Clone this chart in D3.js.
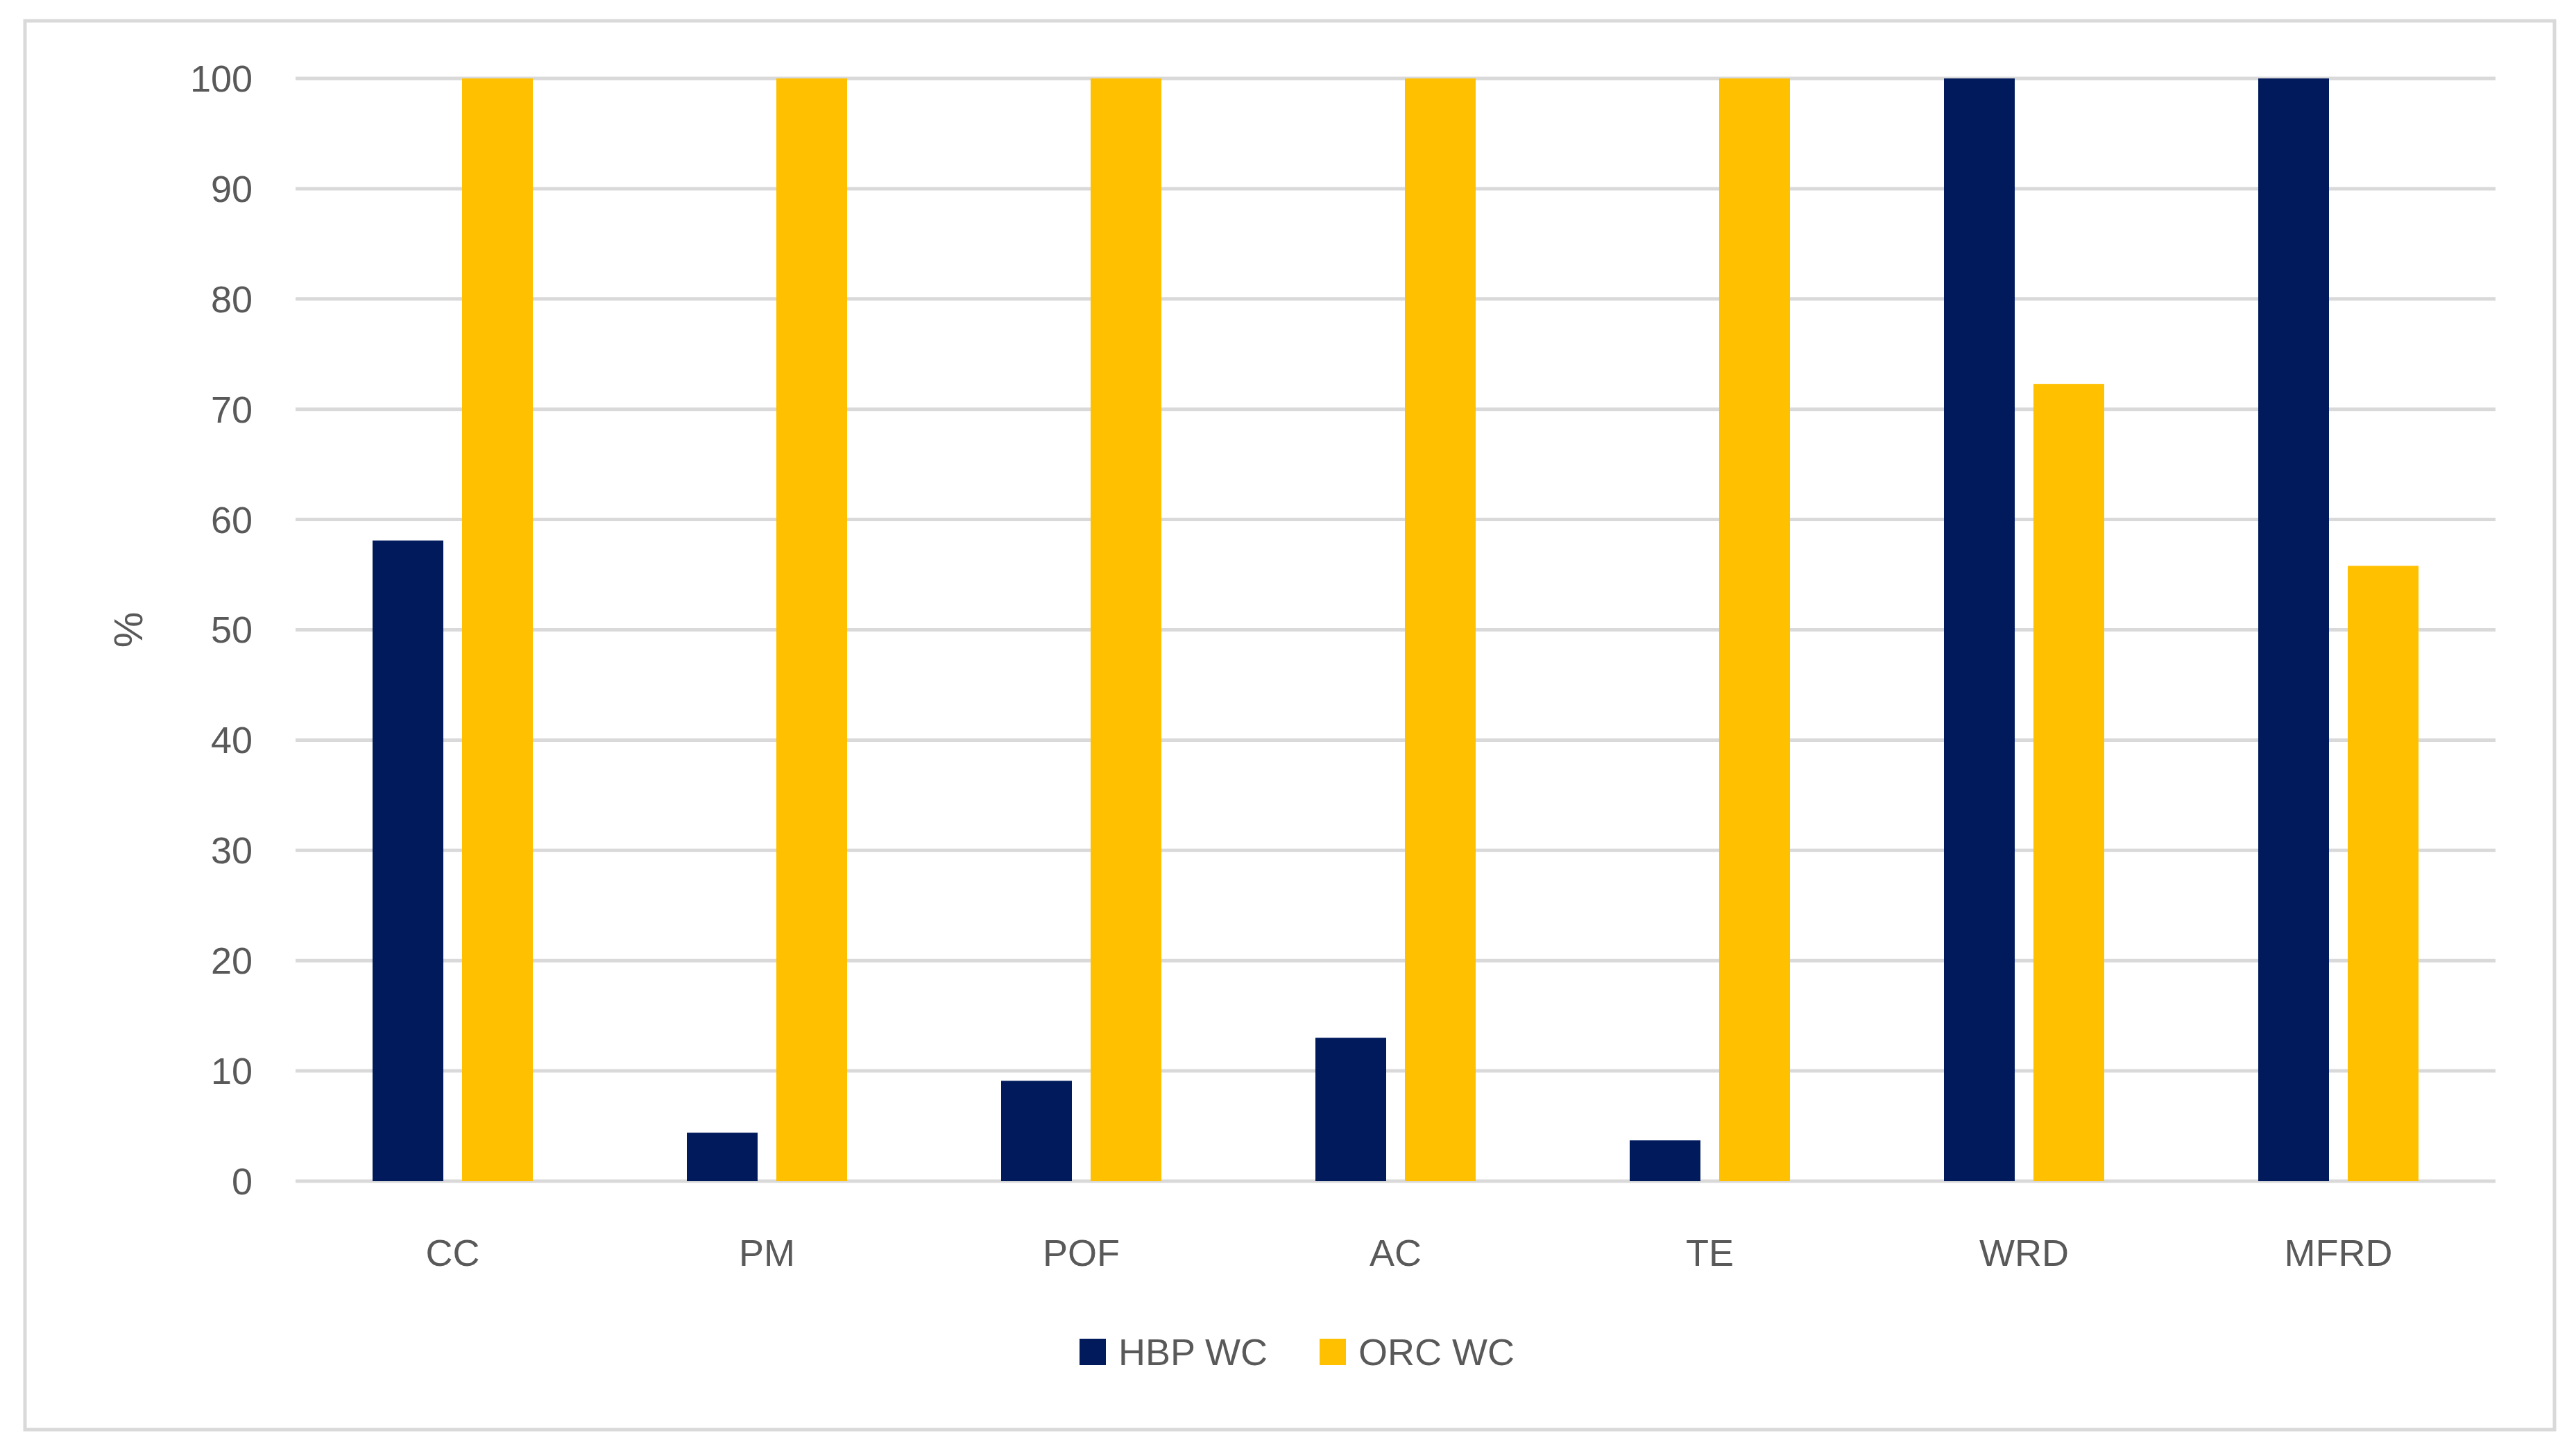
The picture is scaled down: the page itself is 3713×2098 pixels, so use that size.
<!DOCTYPE html>
<html>
<head>
<meta charset="utf-8">
<script src="https://cdn.jsdelivr.net/npm/d3@7"></script>
<style>
  body { margin: 0; background: #fff; }
  text { font-family: "Liberation Sans Narrow", "Liberation Sans", "DejaVu Sans", sans-serif; fill: #595959; }
</style>
</head>
<body>
<svg id="chart" width="3713" height="2098"></svg>
<script>
const categories = ["CC", "PM", "POF", "AC", "TE", "WRD", "MFRD"];
const seriesNames = ["HBP WC", "ORC WC"];
const hbpValues = [58.1, 4.4, 9.1, 13, 3.7, 100, 100];
const orcValues = [100, 100, 100, 100, 100, 72.3, 55.8];
const yTicks = [0, 10, 20, 30, 40, 50, 60, 70, 80, 90, 100];
const colors = ["#001A5C", "#FFC000"];

const svg = d3.select("#chart");

// outer frame
svg.append("rect")
  .attr("x", 36).attr("y", 30).attr("width", 3646).attr("height", 2030)
  .attr("fill", "#fff").attr("stroke", "#d9d9d9").attr("stroke-width", 5);

const plotLeft = 426, plotRight = 3597, plotTop = 113, plotBottom = 1702;

const x = d3.scaleBand().domain(categories).range([plotLeft, plotRight]).padding(0);
const y = d3.scaleLinear().domain([0, 100]).range([plotBottom, plotTop]);

// gridlines
svg.append("g")
  .selectAll("line")
  .data(yTicks)
  .enter().append("line")
  .attr("x1", plotLeft).attr("x2", plotRight)
  .attr("y1", d => y(d)).attr("y2", d => y(d))
  .attr("stroke", "#d9d9d9").attr("stroke-width", 5);

// y labels
svg.append("g")
  .selectAll("text")
  .data(yTicks)
  .enter().append("text")
  .attr("x", 364).attr("y", d => y(d))
  .attr("dy", "0.35em")
  .attr("text-anchor", "end")
  .attr("font-size", 54)
  .text(d => d);

svg.append("text")
  .attr("transform", `translate(185, ${(plotTop + plotBottom) / 2}) rotate(-90)`)
  .attr("text-anchor", "middle")
  .attr("dy", "0.35em")
  .attr("font-size", 58)
  .text("%");

// bars
const barW = 102, gap = 27;
const data = categories.map((c, i) => ({ cat: c, vals: [hbpValues[i], orcValues[i]] }));
const groups = svg.append("g")
  .selectAll("g")
  .data(data)
  .enter().append("g")
  .attr("transform", d => `translate(${x(d.cat) + x.bandwidth() / 2}, 0)`);

groups.selectAll("rect")
  .data(d => d.vals)
  .enter().append("rect")
  .attr("x", (d, j) => j === 0 ? -gap / 2 - barW : gap / 2)
  .attr("width", barW)
  .attr("y", d => y(d))
  .attr("height", d => y(0) - y(d))
  .attr("fill", (d, j) => colors[j]);

// category labels
svg.append("g")
  .selectAll("text")
  .data(categories)
  .enter().append("text")
  .attr("x", d => x(d) + x.bandwidth() / 2)
  .attr("y", 1805)
  .attr("dy", "0.35em")
  .attr("text-anchor", "middle")
  .attr("font-size", 54)
  .text(d => d);

// legend
const legendX = [1556, 1902];
const legend = svg.append("g")
  .selectAll("g")
  .data(seriesNames)
  .enter().append("g")
  .attr("transform", (d, i) => `translate(${legendX[i]}, 1948)`);
legend.append("rect")
  .attr("width", 38).attr("height", 38).attr("y", -19)
  .attr("fill", (d, i) => colors[i]);
legend.append("text")
  .attr("x", 56).attr("dy", "0.35em")
  .attr("font-size", 54)
  .text(d => d);
</script>
</body>
</html>
